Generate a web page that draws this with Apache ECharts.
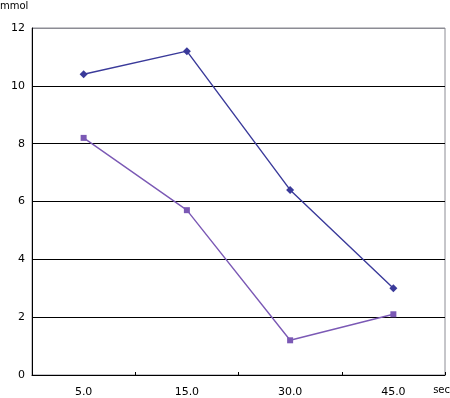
<!DOCTYPE html>
<html><head><meta charset="utf-8">
<script src="https://cdn.jsdelivr.net/npm/echarts@6/dist/echarts.min.js"></script>
<style>html,body{margin:0;padding:0;background:#fff}#c{width:450px;height:398px}</style>
</head><body><div id="c"></div>
<script>
var categories = ['5.0', '15.0', '30.0', '45.0'];
var seriesA = [10.4, 11.2, 6.4, 3.0];
var seriesB = [8.2, 5.7, 1.2, 2.1];
var yTicks = [0, 2, 4, 6, 8, 10, 12];

var chart = echarts.init(document.getElementById('c'));
var font = 'DejaVu Sans';
chart.setOption({
  animation: false,
  grid: {left: 32, right: 5, top: 28, bottom: 21, show: true, borderColor: '#8c8c94', borderWidth: 1},
  xAxis: {
    type: 'category', data: categories, boundaryGap: true,
    axisLine: {lineStyle: {color: '#000', width: 1}},
    axisTick: {show: true, inside: true, length: 3, interval: 0, lineStyle: {color: '#000'}},
    axisLabel: {color: '#000', fontFamily: font, fontSize: 11, margin: 12}
  },
  yAxis: {
    type: 'value', min: yTicks[0], max: yTicks[yTicks.length - 1], interval: 2,
    axisLine: {show: true, lineStyle: {color: '#000', width: 1}},
    axisTick: {show: false},
    axisLabel: {color: '#000', fontFamily: font, fontSize: 11, margin: 7},
    splitLine: {show: true, lineStyle: {color: ['#000', '#000', '#000', '#000', '#000', '#000', '#8c8c94'], width: 1}}
  },
  graphic: [
    {type: 'text', left: 0, top: 1, style: {text: 'mmol', fill: '#000', font: '10px ' + font}},
    {type: 'text', right: 0, top: 385, style: {text: 'sec', fill: '#000', font: '10px ' + font}}
  ],
  series: [
    {type: 'line', data: seriesA, symbol: 'diamond', symbolSize: 8, showAllSymbol: true,
     itemStyle: {color: '#3a3a9a'}, lineStyle: {color: '#3a3a9a', width: 1.4}},
    {type: 'line', data: seriesB, symbol: 'rect', symbolSize: 6, showAllSymbol: true,
     itemStyle: {color: '#7b59b5'}, lineStyle: {color: '#7b59b5', width: 1.4}}
  ]
});
</script></body></html>
